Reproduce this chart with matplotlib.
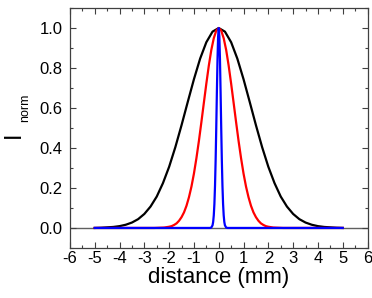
import matplotlib
matplotlib.use("Agg")
import matplotlib.pyplot as plt
import matplotlib.ticker as ticker

plt.rcParams['font.family'] = ['Liberation Sans', 'DejaVu Sans']

# wide profile (black)
x_black = [-5.0, -4.75, -4.5, -4.25, -4.0, -3.75, -3.5, -3.25, -3.0, -2.75,
           -2.5, -2.25, -2.0, -1.75, -1.5, -1.25, -1.0, -0.75, -0.5, -0.25,
           0.0, 0.25, 0.5, 0.75, 1.0, 1.25, 1.5, 1.75, 2.0, 2.25,
           2.5, 2.75, 3.0, 3.25, 3.5, 3.75, 4.0, 4.25, 4.5, 4.75, 5.0]
y_black = [0.000, 0.001, 0.003, 0.005, 0.009, 0.016, 0.027, 0.044, 0.070, 0.107,
           0.157, 0.224, 0.306, 0.404, 0.514, 0.630, 0.744, 0.847, 0.929, 0.982,
           1.000, 0.982, 0.929, 0.847, 0.744, 0.630, 0.514, 0.404, 0.306, 0.224,
           0.157, 0.107, 0.070, 0.044, 0.027, 0.016, 0.009, 0.005, 0.003, 0.001, 0.000]

# medium profile (red)
x_red = [-5.0, -4.0, -3.0, -2.6, -2.4, -2.2, -2.0, -1.9, -1.8, -1.7, -1.6, -1.5,
         -1.4, -1.3, -1.2, -1.1, -1.0, -0.9, -0.8, -0.7, -0.6, -0.5, -0.4,
         -0.3, -0.2, -0.1, 0.0, 0.1, 0.2, 0.3, 0.4, 0.5, 0.6, 0.7, 0.8,
         0.9, 1.0, 1.1, 1.2, 1.3, 1.4, 1.5, 1.6, 1.7, 1.8, 1.9, 2.0,
         2.2, 2.4, 2.6, 3.0, 4.0, 5.0]
y_red = [0.0, 0.0, 0.0, 0.000, 0.001, 0.002, 0.006, 0.009, 0.015, 0.023, 0.036, 0.054,
         0.078, 0.111, 0.154, 0.207, 0.272, 0.349, 0.435, 0.529, 0.626, 0.722, 0.812,
         0.890, 0.949, 0.987, 1.000, 0.987, 0.949, 0.890, 0.812, 0.722, 0.626, 0.529, 0.435,
         0.349, 0.272, 0.207, 0.154, 0.111, 0.078, 0.054, 0.036, 0.023, 0.015, 0.009, 0.006,
         0.002, 0.001, 0.000, 0.0, 0.0, 0.0]

# narrow profile (blue)
x_blue = [-5.0, -2.0, -0.5, -0.35, -0.3, -0.25, -0.225, -0.2, -0.175, -0.15, -0.125,
          -0.1, -0.075, -0.05, -0.025, 0.0, 0.025, 0.05, 0.075, 0.1, 0.125,
          0.15, 0.175, 0.2, 0.225, 0.25, 0.3, 0.35, 0.5, 2.0, 5.0]
y_blue = [0.0, 0.0, 0.0, 0.000, 0.002, 0.013, 0.030, 0.063, 0.120, 0.211, 0.339,
          0.500, 0.678, 0.841, 0.958, 1.000, 0.958, 0.841, 0.678, 0.500, 0.339,
          0.211, 0.120, 0.063, 0.030, 0.013, 0.002, 0.000, 0.0, 0.0, 0.0]

fig = plt.figure(figsize=(3.72, 2.98), dpi=100)
ax = fig.add_axes([0.188, 0.168, 0.800, 0.805])

ax.axhline(0, color='#606060', lw=1.0, zorder=1)
ax.plot(x_black, y_black, color='black', lw=1.6, zorder=2)
ax.plot(x_red, y_red, color='#ff0000', lw=1.6, zorder=3)
ax.plot(x_blue, y_blue, color='#0000ff', lw=1.6, zorder=4)

ax.set_xlim(-6, 6)
ax.set_ylim(-0.1, 1.1)
ax.xaxis.set_major_locator(ticker.MultipleLocator(1))
ax.xaxis.set_minor_locator(ticker.MultipleLocator(0.5))
ax.yaxis.set_major_locator(ticker.FixedLocator([0.0, 0.2, 0.4, 0.6, 0.8, 1.0]))
ax.yaxis.set_minor_locator(ticker.FixedLocator([-0.1, 0.1, 0.3, 0.5, 0.7, 0.9, 1.1]))
ax.yaxis.set_major_formatter(ticker.FormatStrFormatter('%.1f'))
ax.xaxis.set_major_formatter(ticker.FuncFormatter(lambda v, p: '%d' % v))

ax.tick_params(which='both', direction='in', top=True, right=True,
               color='#404040', width=0.8, labelsize=12)
ax.tick_params(axis='x', which='major', pad=2.5)
ax.tick_params(axis='y', which='major', pad=5.5)
ax.tick_params(which='major', length=4)
ax.tick_params(which='minor', length=2.5)
for s in ax.spines.values():
    s.set_color('#404040')
    s.set_linewidth(0.9)

ax.set_xlabel('distance (mm)', fontsize=16, labelpad=0.5)

# y label: "I" with a small "norm" subscript
fig.text(14 / 372, 1 - 135 / 298, 'I', fontsize=17, rotation=90,
         ha='center', va='center')
fig.text(25 / 372, 1 - 108 / 298, 'norm', fontsize=9, rotation=90,
         ha='center', va='center')

fig.savefig('out.png', dpi=100)
